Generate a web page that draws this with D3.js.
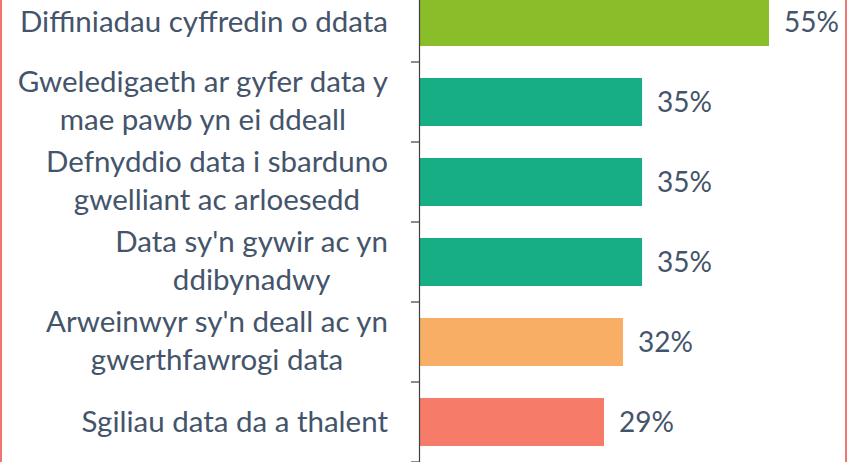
<!DOCTYPE html>
<html>
<head>
<meta charset="utf-8">
<script src="https://cdn.jsdelivr.net/npm/d3@7"></script>
<style>
  html, body { margin: 0; padding: 0; background: #fff; }
  svg { display: block; }
</style>
</head>
<body>
<div id="chart"></div>
<script>
(function(){

    var categories = [
        ["Diffiniadau cyffredin o ddata"],
        ["Gweledigaeth ar gyfer data y", "mae pawb yn ei ddeall"],
        ["Defnyddio data i sbarduno", "gwelliant ac arloesedd"],
        ["Data sy'n gywir ac yn", "ddibynadwy"],
        ["Arweinwyr sy'n deall ac yn", "gwerthfawrogi data"],
        ["Sgiliau data da a thalent"]
    ];
    var values = [55, 35, 35, 35, 32, 29];
    var colors = ["#8abd2a", "#17ae85", "#17ae85", "#17ae85", "#f8ae64", "#f77b69"];

    var width = 858;
    var height = 462;
    var axisX = 420;
    var labelRight = 388;
    var textColor = "#44546a";
    var font = "Lato, 'Open Sans', sans-serif";

    var svg = d3.select("#chart")
        .append("svg")
        .attr("width", width)
        .attr("height", height);

    // outer frame, only the side edges show
    svg.append("line")
        .attr("x1", 1).attr("x2", 1).attr("y1", 0).attr("y2", height)
        .attr("stroke", "#f07470").attr("stroke-width", 2);
    svg.append("line")
        .attr("x1", 846).attr("x2", 846).attr("y1", 0).attr("y2", height)
        .attr("stroke", "#f07470").attr("stroke-width", 2);

    var x = d3.scaleLinear()
        .domain([0, 60])
        .range([axisX, axisX + 380.7]);

    var y = d3.scaleBand()
        .domain(d3.range(categories.length))
        .range([-18, 462])
        .paddingInner(0.4)
        .paddingOuter(0.2);

    var band = y.step();

    // bars
    svg.selectAll("rect.bar")
        .data(values)
        .enter()
        .append("rect")
        .attr("class", "bar")
        .attr("x", x(0))
        .attr("y", function(d, i) { return y(i); })
        .attr("width", function(d) { return x(d) - x(0); })
        .attr("height", y.bandwidth())
        .attr("fill", function(d, i) { return colors[i]; });

    // value labels
    svg.selectAll("text.val")
        .data(values)
        .enter()
        .append("text")
        .attr("class", "val")
        .attr("x", function(d) { return x(d) + 15; })
        .attr("y", function(d, i) { return y(i) + y.bandwidth() / 2 + 10; })
        .attr("fill", textColor)
        .style("font-family", font)
        .style("font-size", "28px")
        .text(function(d) { return d + "%"; });

    // axis line with ticks between categories
    var axisG = svg.append("g");
    axisG.append("line")
        .attr("x1", axisX - 0.5).attr("x2", axisX - 0.5)
        .attr("y1", -18).attr("y2", 462)
        .attr("stroke", "#404040").attr("stroke-width", 1.2);
    axisG.selectAll("line.tick")
        .data(d3.range(categories.length + 1))
        .enter()
        .append("line")
        .attr("class", "tick")
        .attr("x1", axisX - 9).attr("x2", axisX)
        .attr("y1", function(i) { return -18 + i * band; })
        .attr("y2", function(i) { return -18 + i * band; })
        .attr("stroke", "#404040").attr("stroke-width", 1.2);

    // category labels: lines centred on each other, block right aligned
    categories.forEach(function(lines, i) {
        var cy = y(i) + y.bandwidth() / 2;
        var g = svg.append("g");
        var texts = lines.map(function(s, j) {
            var dy = lines.length == 1 ? 10 : (j == 0 ? -10 : 28);
            return g.append("text")
                .attr("y", cy + dy)
                .attr("text-anchor", "middle")
                .attr("fill", textColor)
                .style("font-family", font)
                .style("font-size", "29.5px")
                .text(s);
        });
        var maxW = d3.max(texts, function(t) { return t.node().getComputedTextLength(); });
        texts.forEach(function(t) { t.attr("x", labelRight - maxW / 2); });
    });

})();
</script>
</body>
</html>
